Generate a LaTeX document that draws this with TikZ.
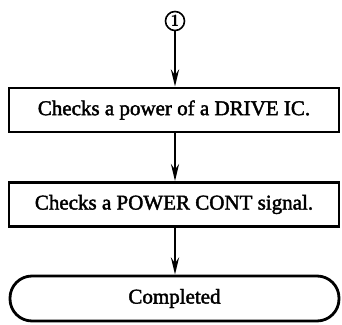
\documentclass[tikz,border=0pt]{standalone}
\usepackage{fontspec}
\setmainfont{Liberation Serif}
\newfontfamily\inkserif[FakeBold=2]{Liberation Serif}
\usetikzlibrary{positioning,arrows.meta,shapes}

\begin{document}
\begin{tikzpicture}[
    x=1pt, y=-1pt,
    step box/.style={rectangle, draw, line width=2.8pt, minimum width=330pt, minimum height=44pt, font=\inkserif\fontsize{21}{25}\selectfont},
    end box/.style={rectangle, rounded corners=22pt, draw, line width=2.8pt, minimum width=329pt, minimum height=45pt, font=\inkserif\fontsize{21}{25}\selectfont},
    flow/.style={-{Stealth[length=17pt,width=8pt]}, line width=2.6pt}
]
    \useasboundingbox (0,0) rectangle (342,324);

    % connector mark
    \node[circle, draw, line width=1.6pt, minimum size=19pt, inner sep=0pt, font=\sffamily\bfseries\fontsize{16}{16}\selectfont] (c1) at (175,21) {1};

    % steps
    \node[step box] (chk1) at (174,110) {Checks a power of a DRIVE IC.};
    \node[step box] (chk2) at (174,204.5) {Checks a POWER CONT signal.};
    \node[end box] (done) at (174.5,298.5) {Completed};

    % arrows
    \draw[flow] (c1) -- (c1 |- chk1.north);
    \draw[flow] (chk1.south -| c1) -- (chk2.north -| c1);
    \draw[flow] (chk2.south -| c1) -- (done.north -| c1);
\end{tikzpicture}
\end{document}
